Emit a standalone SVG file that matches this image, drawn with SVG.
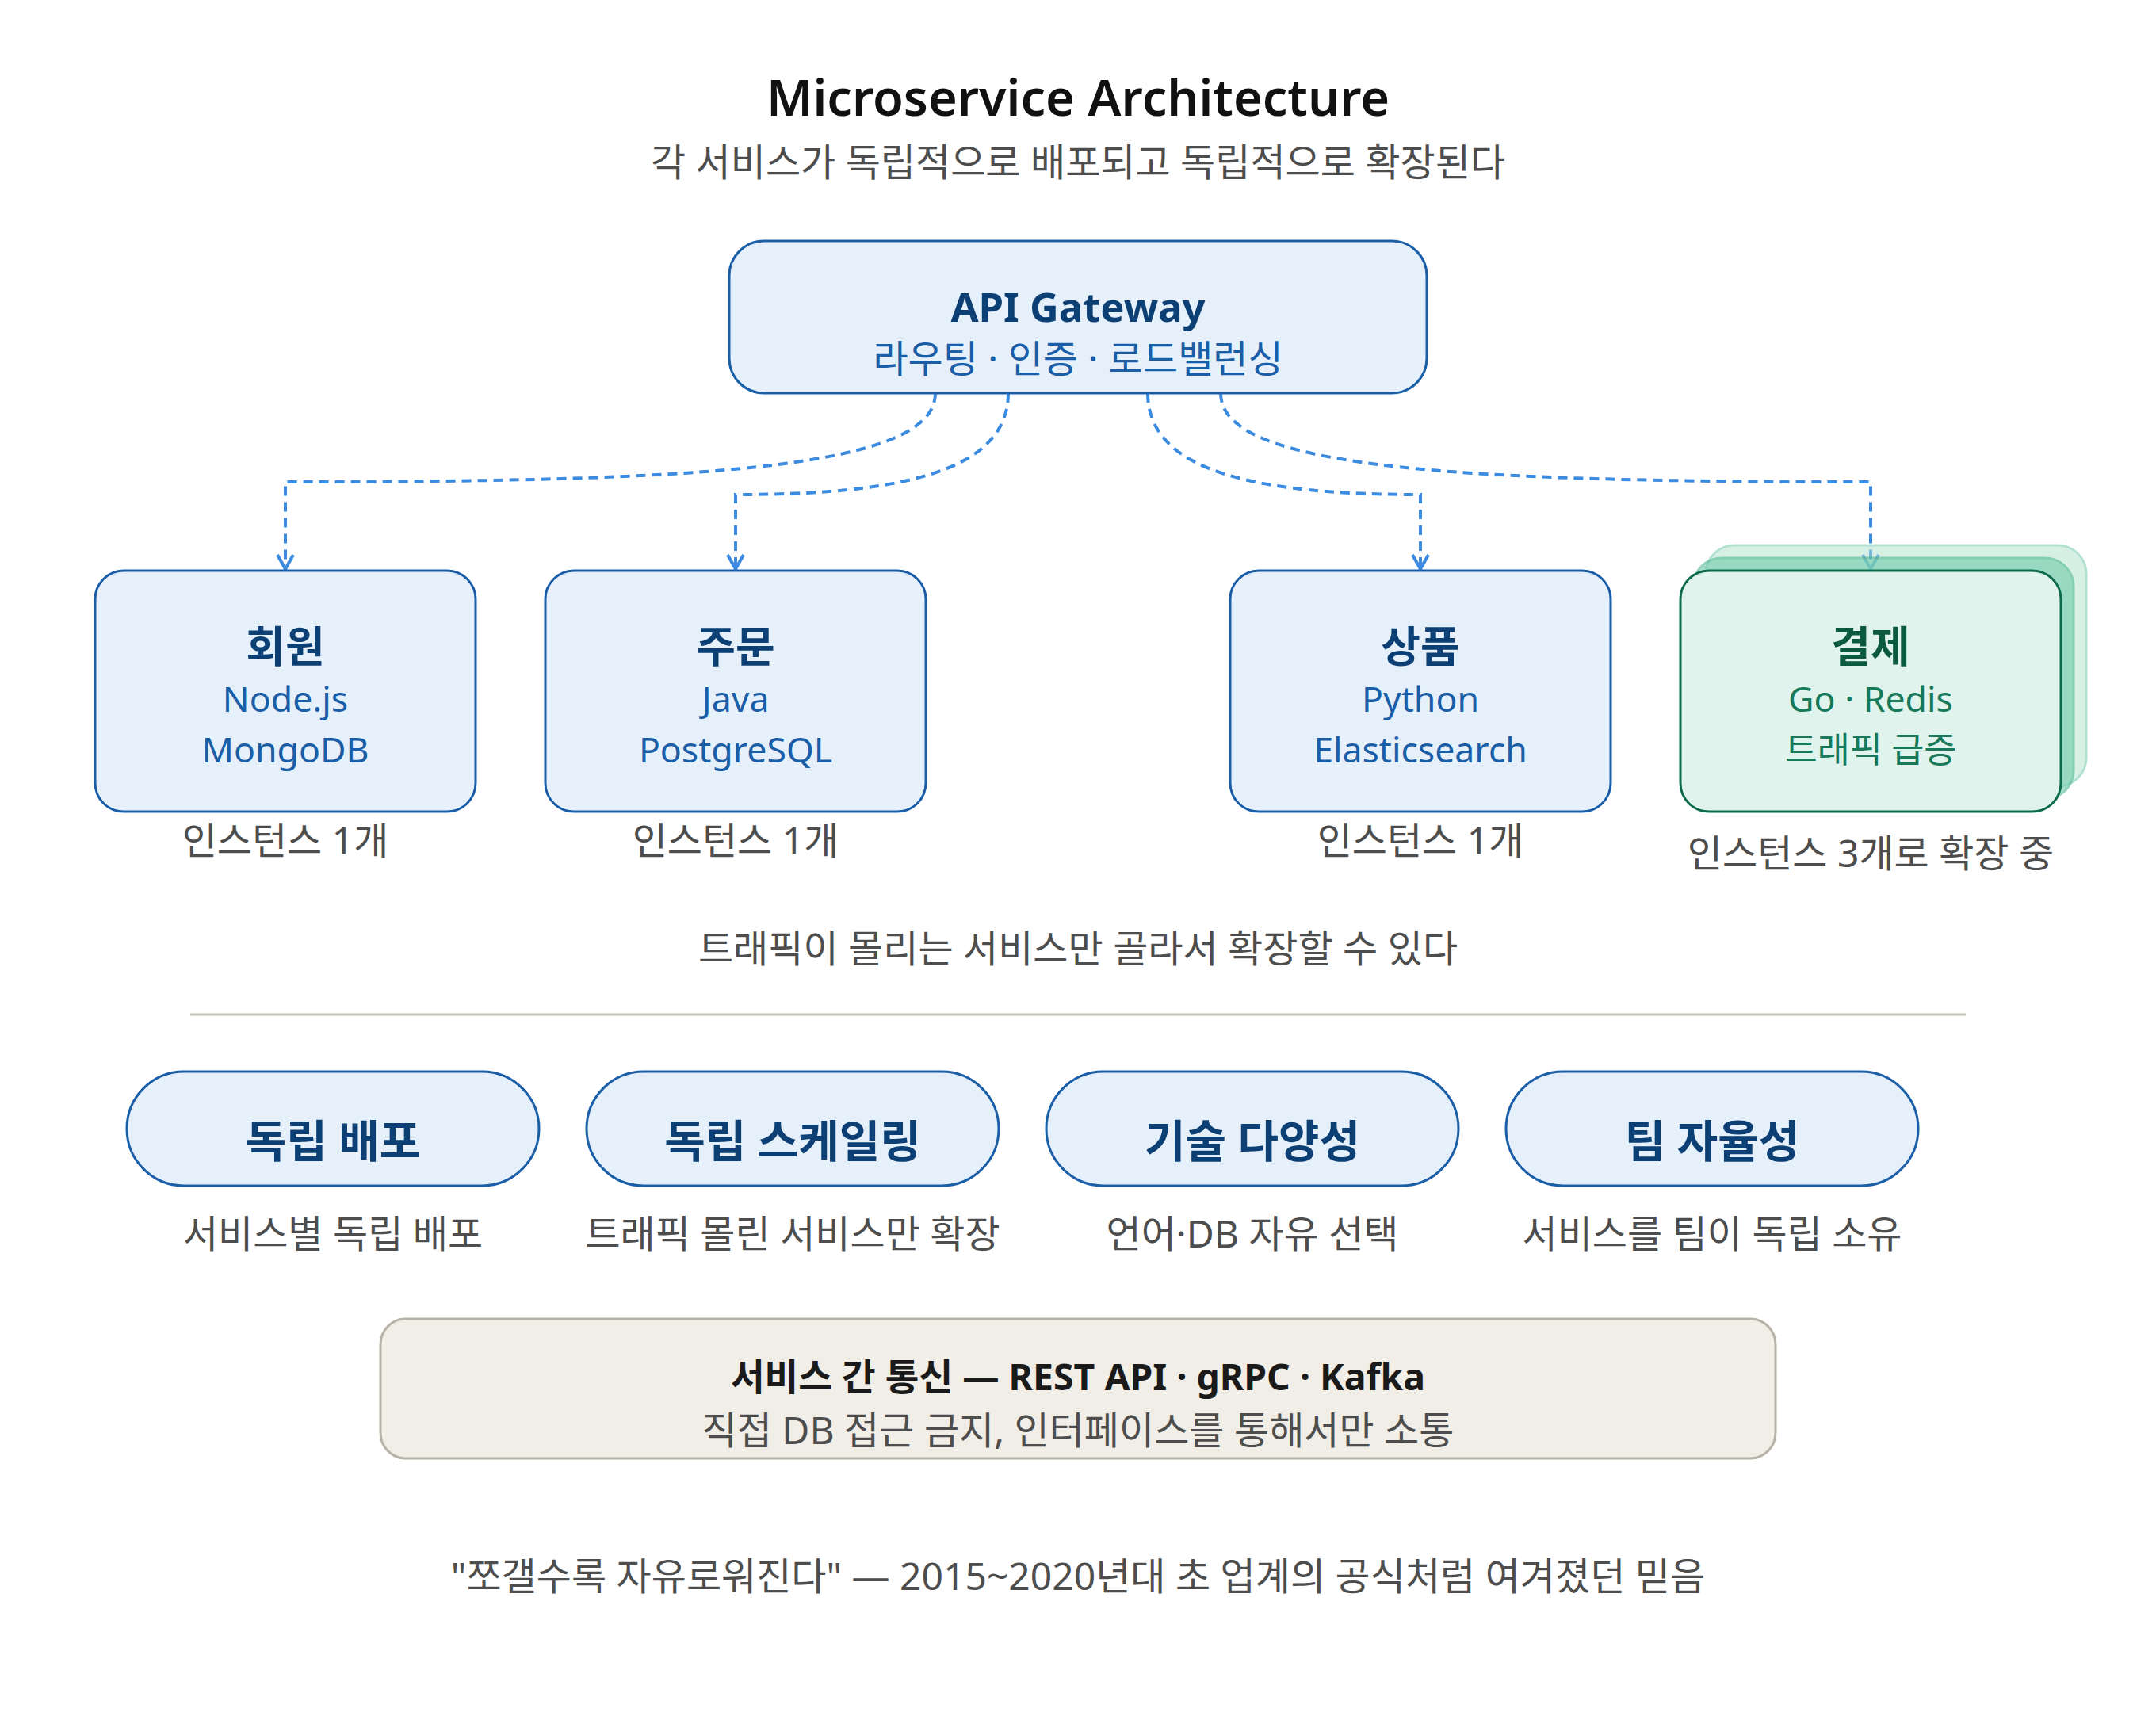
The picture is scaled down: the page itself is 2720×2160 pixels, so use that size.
<svg xmlns="http://www.w3.org/2000/svg" width="2720" height="2160" viewBox="0 0 2720 2160">
<defs>
<style>
text{font-family:"Noto Sans","Noto Sans CJK KR",sans-serif;text-anchor:middle}
.title{font-size:31.5px;font-weight:600;fill:#111}
.subtitle{font-size:24px;fill:#4d4d4d}
.box{fill:#e6f0fa;stroke:#1a5ea8;stroke-width:1.5}
.bt{font-size:27px;font-weight:700;fill:#0c3f73}
.gt{font-size:25.4px;font-weight:700;fill:#0c3f73}
.bs{font-size:22.3px;fill:#1a5ea8}
.ks{font-size:24px}
.gbox{fill:#e0f4ed;stroke:#0f6b4f;stroke-width:1.5}
.gbox2{fill:#70cbaa;stroke:#4fb892;stroke-width:1.5;opacity:0.6}
.gbox3{fill:#b0e2cf;stroke:#6cc3a3;stroke-width:1.5;opacity:0.5}
.gtt{font-size:27px;font-weight:700;fill:#0b5a40}
.gs{font-size:22.3px;fill:#16795a}
.note{font-size:24px;fill:#4d4d4d}
.conn{fill:none;stroke:#3b8be0;stroke-width:2;stroke-dasharray:6 4}
.pill{fill:#e6f0fa;stroke:#1a5ea8;stroke-width:1.5}
.pt{font-size:28px;font-weight:700;fill:#0c3f73}
.comm{fill:#f1eee7;stroke:#b8b3a8;stroke-width:1.5}
.ct{font-size:23.2px;font-weight:700;fill:#1a1a1a}
.divider{stroke:#c6c2ba;stroke-width:1.5}
</style>
<marker id="arr" viewBox="0 0 12 12" refX="11" refY="6" markerWidth="12" markerHeight="12" markerUnits="userSpaceOnUse" orient="auto">
<path d="M2,1 L11,6 L2,11" fill="none" stroke="#3b8be0" stroke-width="2"/>
</marker>
</defs>
<rect width="2720" height="2160" fill="#ffffff"/>
<g transform="scale(2)">
<g id="header">
<text class="title" x="680" y="73">Microservice Architecture</text>
<text class="subtitle" x="680" y="111">각 서비스가 독립적으로 배포되고 독립적으로 확장된다</text>
</g>
<g id="connectors">
<path class="conn" d="M590,248 C590,296 440,304 180,304 L180,359" marker-end="url(#arr)"/>
<path class="conn" d="M636,248 C636,300 560,312 464,312 L464,359" marker-end="url(#arr)"/>
<path class="conn" d="M724,248 C724,300 800,312 896,312 L896,359" marker-end="url(#arr)"/>
<path class="conn" d="M770,248 C770,296 920,304 1180,304 L1180,359" marker-end="url(#arr)"/>
</g>
<g id="gateway">
<rect class="box" x="460" y="152" width="440" height="96" rx="22"/>
<text class="gt" x="680" y="203">API Gateway</text>
<text class="bs ks" x="680" y="235">라우팅 · 인증 · 로드밸런싱</text>
</g>
<g id="svc-member">
<rect class="box" x="60" y="360" width="240" height="152" rx="18"/>
<text class="bt" x="180" y="418">회원</text>
<text class="bs" x="180" y="449">Node.js</text>
<text class="bs" x="180" y="481">MongoDB</text>
<text class="note" x="180" y="539">인스턴스 1개</text>
</g>
<g id="svc-order">
<rect class="box" x="344" y="360" width="240" height="152" rx="18"/>
<text class="bt" x="464" y="418">주문</text>
<text class="bs" x="464" y="449">Java</text>
<text class="bs" x="464" y="481">PostgreSQL</text>
<text class="note" x="464" y="539">인스턴스 1개</text>
</g>
<g id="svc-product">
<rect class="box" x="776" y="360" width="240" height="152" rx="18"/>
<text class="bt" x="896" y="418">상품</text>
<text class="bs" x="896" y="449">Python</text>
<text class="bs" x="896" y="481">Elasticsearch</text>
<text class="note" x="896" y="539">인스턴스 1개</text>
</g>
<g id="svc-payment">
<rect class="gbox3" x="1076" y="344" width="240" height="152" rx="18"/>
<rect class="gbox2" x="1068" y="352" width="240" height="152" rx="18"/>
<rect class="gbox" x="1060" y="360" width="240" height="152" rx="18"/>
<text class="gtt" x="1180" y="418">결제</text>
<text class="gs" x="1180" y="449">Go · Redis</text>
<text class="gs ks" x="1180" y="481">트래픽 급증</text>
<text class="note" x="1180" y="547">인스턴스 3개로 확장 중</text>
</g>
<g id="scaling-note">
<text class="note" x="680" y="607">트래픽이 몰리는 서비스만 골라서 확장할 수 있다</text>
<line class="divider" x1="120" y1="640" x2="1240" y2="640"/>
</g>
<g id="pill-deploy">
<rect class="pill" x="80" y="676" width="260" height="72" rx="36"/>
<text class="pt" x="210" y="730">독립 배포</text>
<text class="note" x="210" y="787">서비스별 독립 배포</text>
</g>
<g id="pill-scale">
<rect class="pill" x="370" y="676" width="260" height="72" rx="36"/>
<text class="pt" x="500" y="730">독립 스케일링</text>
<text class="note" x="500" y="787">트래픽 몰린 서비스만 확장</text>
</g>
<g id="pill-tech">
<rect class="pill" x="660" y="676" width="260" height="72" rx="36"/>
<text class="pt" x="790" y="730">기술 다양성</text>
<text class="note" x="790" y="787">언어·DB 자유 선택</text>
</g>
<g id="pill-team">
<rect class="pill" x="950" y="676" width="260" height="72" rx="36"/>
<text class="pt" x="1080" y="730">팀 자율성</text>
<text class="note" x="1080" y="787">서비스를 팀이 독립 소유</text>
</g>
<g id="communication">
<rect class="comm" x="240" y="832" width="880" height="88" rx="16"/>
<text class="ct" x="680" y="877">서비스 간 통신 — REST API · gRPC · Kafka</text>
<text class="note" x="680" y="911">직접 DB 접근 금지, 인터페이스를 통해서만 소통</text>
</g>
<g id="footer">
<text class="note" x="680" y="1003">"쪼갤수록 자유로워진다" — 2015~2020년대 초 업계의 공식처럼 여겨졌던 믿음</text>
</g>
</g>
</svg>
